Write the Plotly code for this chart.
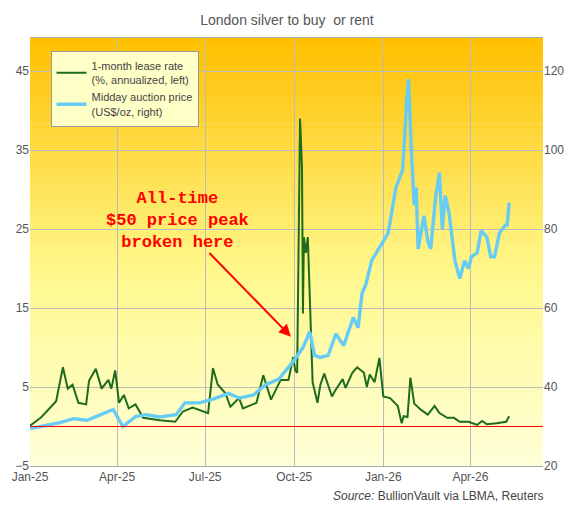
import plotly.graph_objects as go

# lease rate, % annualized (left axis)
lease_dates = ["2025-01-01", "2025-01-12", "2025-01-22", "2025-01-28", "2025-02-04", "2025-02-09",
               "2025-02-14", "2025-02-20", "2025-02-28", "2025-03-03", "2025-03-10", "2025-03-16",
               "2025-03-23", "2025-03-26", "2025-03-30", "2025-04-03", "2025-04-08", "2025-04-13",
               "2025-04-20", "2025-04-28", "2025-05-15", "2025-05-31", "2025-06-08", "2025-06-18",
               "2025-07-04", "2025-07-09", "2025-07-14", "2025-07-22", "2025-07-27", "2025-08-05",
               "2025-08-09", "2025-08-23", "2025-08-30", "2025-09-07", "2025-09-17", "2025-09-25",
               "2025-09-30", "2025-10-02", "2025-10-04", "2025-10-07", "2025-10-09", "2025-10-10",
               "2025-10-11", "2025-10-13", "2025-10-15", "2025-10-18", "2025-10-20", "2025-10-25",
               "2025-10-28", "2025-11-01", "2025-11-09", "2025-11-12", "2025-11-20", "2025-11-23",
               "2025-11-30", "2025-12-05", "2025-12-12", "2025-12-15", "2025-12-18", "2025-12-23",
               "2025-12-28", "2026-01-01", "2026-01-08", "2026-01-16", "2026-01-20", "2026-01-22",
               "2026-01-26", "2026-01-29", "2026-02-02", "2026-02-09", "2026-02-16", "2026-02-23",
               "2026-02-28", "2026-03-08", "2026-03-15", "2026-03-21", "2026-03-30", "2026-04-08",
               "2026-04-13", "2026-04-18", "2026-04-28", "2026-05-08", "2026-05-11"]
lease_rate = [0.1, 1.1, 2.4, 3.2, 7.5, 4.8,
              5.3, 3.0, 2.8, 5.8, 7.3, 4.8,
              5.9, 4.8, 7.1, 3.0, 4.0, 2.3,
              2.8, 1.1, 0.8, 0.6, 1.9, 2.4,
              1.7, 7.4, 5.3, 4.2, 2.5, 3.6,
              2.3, 3.0, 6.5, 3.4, 5.9, 5.9,
              8.8, 7.1, 6.8, 39.0, 32.8, 14.3,
              24.0, 22.0, 24.0, 12.5, 5.6, 3.0,
              5.3, 6.7, 3.8, 4.5, 6.0, 4.9,
              6.8, 7.5, 6.8, 5.0, 6.6, 5.6,
              8.7, 3.8, 3.6, 2.6, 0.4, 1.3,
              1.2, 6.2, 2.9, 2.1, 1.5, 2.6,
              1.7, 1.1, 1.1, 0.6, 0.6, 0.2,
              0.7, 0.3, 0.4, 0.6, 1.3]

# midday auction price, US$/oz (right axis)
price_dates = ["2025-01-01", "2025-01-15", "2025-02-01", "2025-02-15", "2025-03-01", "2025-03-15",
               "2025-03-28", "2025-04-07", "2025-04-20", "2025-05-01", "2025-05-15", "2025-06-01",
               "2025-06-10", "2025-06-25", "2025-07-10", "2025-07-25", "2025-08-05", "2025-08-20",
               "2025-09-01", "2025-09-15", "2025-09-30", "2025-10-10", "2025-10-17", "2025-10-22",
               "2025-10-28", "2025-11-05", "2025-11-13", "2025-11-21", "2025-12-01", "2025-12-06",
               "2025-12-10", "2025-12-14", "2025-12-20", "2025-12-26", "2026-01-06", "2026-01-14",
               "2026-01-21", "2026-01-25", "2026-01-27", "2026-01-30", "2026-02-02", "2026-02-04",
               "2026-02-06", "2026-02-12", "2026-02-16", "2026-02-19", "2026-02-24", "2026-02-28",
               "2026-03-03", "2026-03-06", "2026-03-10", "2026-03-16", "2026-03-21", "2026-03-26",
               "2026-03-30", "2026-04-02", "2026-04-08", "2026-04-12", "2026-04-18", "2026-04-22",
               "2026-04-26", "2026-05-01", "2026-05-07", "2026-05-09", "2026-05-11"]
price = [29.5, 30.2, 31.0, 32.0, 31.6, 33.0,
         34.3, 30.0, 32.5, 33.0, 32.4, 33.0,
         36.0, 36.0, 37.0, 38.4, 37.2, 38.0,
         40.5, 42.0, 46.5, 50.0, 54.0, 48.0,
         47.5, 48.0, 53.5, 50.5, 57.6, 55.0,
         63.7, 66.0, 72.0, 74.5, 79.0, 90.5,
         95.0, 112.0, 118.0, 100.0, 86.0, 90.5,
         75.0, 83.4, 77.0, 75.0, 88.0, 94.3,
         80.0, 88.5, 84.0, 72.0, 67.5, 72.0,
         70.0, 73.0, 74.0, 79.6, 78.0, 73.0,
         73.0, 79.0, 81.0, 81.0, 86.7]

fig = go.Figure()

# gradient plot background, orange at top fading to pale yellow
n = 60
top = (255, 192, 0)
mid = (255, 248, 140)
bot = (255, 255, 215)
for i in range(n):
    t = i / (n - 1)
    if t < 0.55:
        u = t / 0.55
        c = [round(top[k] + (mid[k] - top[k]) * u) for k in range(3)]
    else:
        u = (t - 0.55) / 0.45
        c = [round(mid[k] + (bot[k] - mid[k]) * u) for k in range(3)]
    fig.add_shape(type="rect", xref="paper", yref="paper", x0=0, x1=1,
                  y0=1 - (i + 1) / n, y1=1 - i / n + 0.001, layer="below",
                  line_width=0, fillcolor="rgb(%d,%d,%d)" % tuple(c))

fig.add_trace(go.Scatter(x=lease_dates, y=lease_rate, mode="lines",
                         name="1-month lease rate<br>(%, annualized, left)",
                         line=dict(color="#1d6b1d", width=2)))
fig.add_trace(go.Scatter(x=price_dates, y=price, mode="lines", yaxis="y2",
                         name="Midday auction price<br>(US$/oz, right)",
                         line=dict(color="#66ccf5", width=3.4)))

fig.add_shape(type="line", xref="paper", x0=0, x1=1, yref="y", y0=0, y1=0,
              line=dict(color="red", width=1.2))

fig.add_annotation(x="2025-09-29", y=11.2, ax=-115, ay=-118,
                   xref="x", yref="y", showarrow=True, arrowhead=2, arrowsize=1.2,
                   arrowwidth=2, arrowcolor="red", standoff=2,
                   text="<b>All-time<br>$50 price peak<br>broken here</b>",
                   font=dict(family="Liberation Mono", size=17, color="red"))

fig.add_annotation(x=1.005, y=-0.09, xref="paper", yref="paper", xanchor="right",
                   showarrow=False, text="<i>Source:</i> BullionVault via LBMA, Reuters",
                   font=dict(size=12, color="#444"))

axis_font = dict(size=12, color="#555")
fig.update_layout(
    width=558, height=504,
    margin=dict(l=22, r=23, t=30, b=46, autoexpand=False),
    paper_bgcolor="white", plot_bgcolor="rgba(0,0,0,0)",
    font=dict(family="Liberation Sans", color="#444"),
    title=dict(text="London silver to buy  or rent", x=0.5, y=0.985,
               font=dict(size=14, color="#555")),
    xaxis=dict(range=["2025-01-01", "2026-06-15"], tickformat="%b-%y", dtick="M3",
               tick0="2025-01-01", showgrid=True, gridcolor="#bbbbbb", tickfont=axis_font,
               showline=True, linecolor="#aaa", mirror=True, ticks="", automargin=False),
    yaxis=dict(range=[-5, 49.2], tick0=-5, dtick=10, showgrid=True, gridcolor="#bbbbbb",
               tickfont=axis_font, zeroline=False, automargin=False),
    yaxis2=dict(range=[20, 128.4], tick0=20, dtick=20, overlaying="y", side="right",
                showgrid=False, tickfont=axis_font, zeroline=False, automargin=False),
    legend=dict(x=0.04, y=0.97, xanchor="left", yanchor="top", bgcolor="#ffffc8",
                bordercolor="#999", borderwidth=1, font=dict(size=11, color="#444"),
                tracegroupgap=8),
    showlegend=True,
)

fig.write_html("out.html")
